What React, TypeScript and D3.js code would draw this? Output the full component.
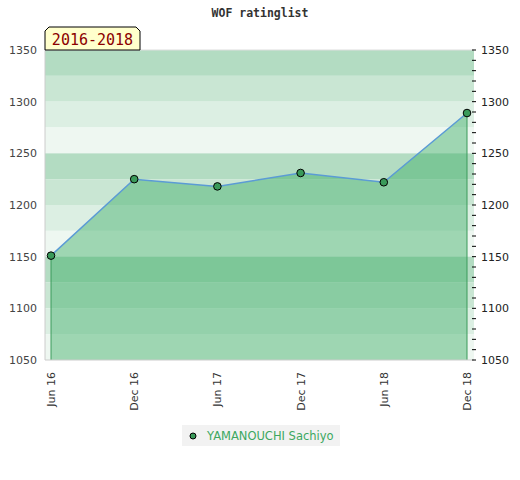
import React from "react";
import * as d3 from "d3";

const title = "WOF ratinglist";
const periodLabel = "2016-2018";
const playerName = "YAMANOUCHI Sachiyo";
const periods = ["Jun 16", "Dec 16", "Jun 17", "Dec 17", "Jun 18", "Dec 18"];
const ratings = [1151, 1225, 1218, 1231, 1222, 1289];
const yTicks = [1050, 1100, 1150, 1200, 1250, 1300, 1350];
const bandShades = ["#b3dcc2", "#c9e6d3", "#dcefe3", "#eef7f1"];

const W = 520;
const H = 480;
const left = 45;
const right = 474;
const top = 50;
const bottom = 360;

const App = () => {
  const x = d3.scalePoint<string>().domain(periods).range([51, 467]);
  const y = d3.scaleLinear().domain([1050, 1350]).range([bottom, top]);

  // stripes every 25 points, 4 shades per 100 from the top
  const bandEdges = d3.range(1350, 1050, -25);
  const minorTicks = d3.range(1050, 1351, 10);

  const pts = periods.map((p, i) => ({ p, v: ratings[i] }));
  const line = d3
    .line<{ p: string; v: number }>()
    .x((d) => x(d.p)!)
    .y((d) => y(d.v));
  const area = d3
    .area<{ p: string; v: number }>()
    .x((d) => x(d.p)!)
    .y0(bottom)
    .y1((d) => y(d.v));

  const first = pts[0];
  const last = pts[pts.length - 1];
  const axisFont = "'DejaVu Sans', sans-serif";

  return (
    <svg
      width={W}
      height={H}
      style={{ position: "absolute", left: 0, top: 0, background: "#fff" }}
    >
      <text
        x={260}
        y={17}
        textAnchor="middle"
        fontFamily="'DejaVu Sans Mono', monospace"
        fontWeight="bold"
        fontSize={11.5}
        fill="#333"
      >
        {title}
      </text>

      {bandEdges.map((v, i) => (
        <rect
          key={v}
          x={left}
          width={right - left}
          y={y(v)}
          height={y(v - 25) - y(v)}
          fill={bandShades[i % 4]}
        />
      ))}

      <path d={area(pts)!} fill="#3cac66" fillOpacity={0.45} />
      <line x1={x(first.p)} x2={x(first.p)} y1={y(first.v)} y2={bottom} stroke="#3a9a5a" />
      <line x1={x(last.p)} x2={x(last.p)} y1={y(last.v)} y2={bottom} stroke="#3a9a5a" />
      <path d={line(pts)!} fill="none" stroke="#5b9bd5" strokeWidth={1.5} />
      {pts.map((d) => (
        <circle key={d.p} cx={x(d.p)} cy={y(d.v)} r={3.8} fill="#3a9a5a" stroke="#000" strokeWidth={1} />
      ))}

      {/* frame */}
      <line x1={left} x2={right} y1={top} y2={top} stroke="#ddd" />
      <line x1={left} x2={left} y1={top} y2={bottom} stroke="#ccc" />
      <line x1={left} x2={right} y1={bottom} y2={bottom} stroke="#ccc" />

      {/* left axis */}
      {yTicks.map((t) => (
        <text key={"l" + t} x={37} y={y(t) + 4} textAnchor="end" fontFamily={axisFont} fontSize={11} fill="#444">
          {t}
        </text>
      ))}

      {/* right axis */}
      {minorTicks.map((t) => (
        <line key={"m" + t} x1={472} x2={476} y1={y(t)} y2={y(t)} stroke="#000" />
      ))}
      {yTicks.map((t) => (
        <text key={"r" + t} x={481} y={y(t) + 4} fontFamily={axisFont} fontSize={11} fill="#222">
          {t}
        </text>
      ))}

      {/* x labels */}
      {periods.map((p) => (
        <text
          key={p}
          transform={`translate(${x(p)! + 4},372) rotate(-90)`}
          textAnchor="end"
          fontFamily={axisFont}
          fontSize={11}
          fill="#333"
        >
          {p}
        </text>
      ))}

      {/* period label */}
      <path
        d={`M${left},50 L${left},31 L${left + 4},27 L136,27 L140,31 L140,50 Z`}
        fill="#ffffcc"
        stroke="#000"
        strokeWidth={1}
      />
      <text
        x={92.5}
        y={44.5}
        textAnchor="middle"
        fontFamily="'DejaVu Sans Mono', monospace"
        fontSize={15}
        fill="#8b0000"
      >
        {periodLabel}
      </text>

      {/* legend */}
      <rect x={182} y={425} width={158} height={21} fill="#f2f2f2" />
      <circle cx={193} cy={436} r={3} fill="#3a9a5a" stroke="#000" />
      <text x={207} y={440} fontFamily={axisFont} fontSize={11.5} fill="#3ca860">
        {playerName}
      </text>
    </svg>
  );
};

export default App;
